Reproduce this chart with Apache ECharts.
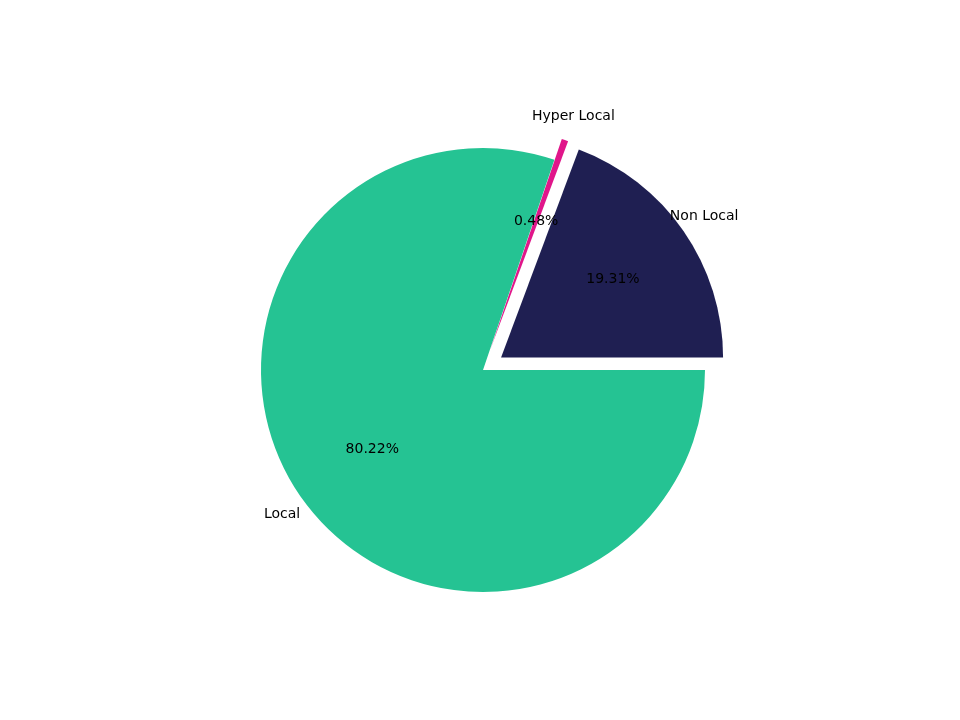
<!DOCTYPE html>
<html><head><meta charset="utf-8">
<script src="https://cdn.jsdelivr.net/npm/echarts@6/dist/echarts.min.js"></script>
<style>html,body{margin:0;background:#fff}#c{width:960px;height:720px}</style>
</head><body><div id="c"></div>
<script>
const categories = ['Non Local', 'Hyper Local', 'Local'];
const values = [19.31, 0.48, 80.22];
const colors = ['#1f1f52', '#e0168a', '#25c393'];
const exploded = [true, true, false];
const nameAlign = ['left', 'left', 'right'];

const R = 222, C = ['483', '370'];
const font = {fontFamily: 'DejaVu Sans', fontSize: 14, color: '#000'};
function base(extra) {
  return Object.assign({
    type: 'pie', center: [483, 370], startAngle: 0, clockwise: false,
    selectedMode: 'multiple', selectedOffset: 22, animation: false,
    labelLine: {show: false}, emphasis: {disabled: true}
  }, extra);
}
const chart = echarts.init(document.getElementById('c'));
chart.setOption({
  backgroundColor: '#fff',
  series: [
    base({radius: [0, R], z: 1,
      data: categories.map((n, i) => ({name: n, value: values[i], selected: exploded[i], itemStyle: {color: colors[i]}})),
      label: {show: false}}),
    base({radius: [0.2 * R, R], z: 3, silent: true,
      data: categories.map((n, i) => ({name: n, value: values[i], selected: exploded[i], itemStyle: {color: 'transparent'}})),
      label: Object.assign({show: true, position: 'inside', formatter: p => p.value.toFixed(2) + '%'}, font)}),
    base({radius: [R, 1.2 * R], z: 3, silent: true,
      data: categories.map((n, i) => ({name: n, value: values[i], selected: exploded[i], itemStyle: {color: 'transparent'},
        label: {align: nameAlign[i]}})),
      label: Object.assign({show: true, position: 'inside', formatter: '{b}'}, font)})
  ]
});
</script></body></html>
